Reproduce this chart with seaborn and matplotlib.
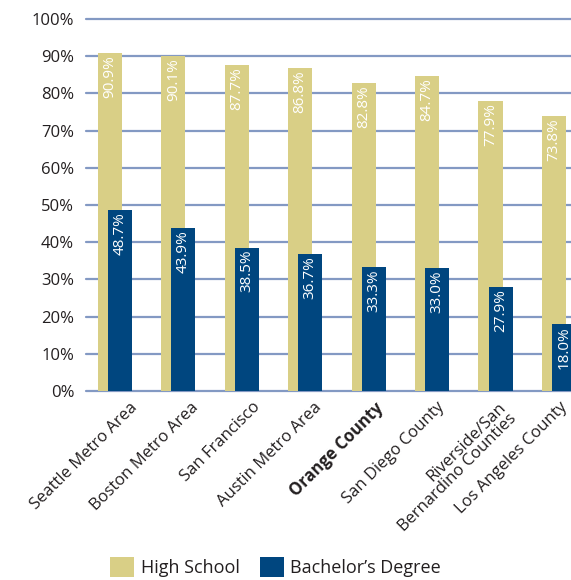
import numpy as np
import pandas as pd
import matplotlib
matplotlib.use("Agg")
import matplotlib.pyplot as plt
from matplotlib.patches import Patch
import seaborn as sns

regions = ["Seattle Metro Area", "Boston Metro Area", "San Francisco",
           "Austin Metro Area", "Orange County", "San Diego County",
           "Riverside/San\nBernardino Counties", "Los Angeles County"]
high_school = [90.9, 90.1, 87.7, 86.8, 82.8, 84.7, 77.9, 73.8]
bachelors = [48.7, 43.9, 38.5, 36.7, 33.3, 33.0, 27.9, 18.0]
series_names = ["High School", "Bachelor\u2019s Degree"]
y_ticks = [0, 10, 20, 30, 40, 50, 60, 70, 80, 90, 100]

HS_COLOR = "#d9cf86"
BA_COLOR = "#00467f"
GRID_COLOR = "#8399c3"
TEXT_COLOR = "#231f20"

sns.set_theme(style="white")
plt.rcParams["font.family"] = ["Open Sans", "DejaVu Sans"]

fig = plt.figure(figsize=(5.71, 5.80), dpi=100)
ax = fig.add_axes([86 / 571, 1 - 391 / 580, 1 - 86 / 571, (391 - 19) / 580])

idx = np.arange(len(regions))
offset = 0.079
bar_w = 0.379
df_hs = pd.DataFrame({"pos": idx - offset, "value": high_school})
df_ba = pd.DataFrame({"pos": idx + offset, "value": bachelors})

sns.barplot(data=df_hs, x="pos", y="value", native_scale=True, width=bar_w,
            color=HS_COLOR, saturation=1, errorbar=None, ax=ax, linewidth=0)
sns.barplot(data=df_ba, x="pos", y="value", native_scale=True, width=bar_w,
            color=BA_COLOR, saturation=1, errorbar=None, ax=ax, linewidth=0)

# value labels inside bars
for pos, v in zip(idx - offset, high_school):
    ax.annotate(f"{v:.1f}%", xy=(pos, v), xytext=(0, -1.5), textcoords="offset points",
                rotation=90, ha="center", va="top", color="white", fontsize=11)
for pos, v in zip(idx + offset, bachelors):
    ax.annotate(f"{v:.1f}%", xy=(pos, v), xytext=(0, -1.5), textcoords="offset points",
                rotation=90, ha="center", va="top", color="white", fontsize=11)

ax.set_xlim(-0.457, 7.19)
ax.set_ylim(0, 100)
ax.set_yticks(y_ticks)
ax.set_yticklabels([f"{t}%" for t in y_ticks])
# label anchors (top-right end of each rotated label)
ax.set_xticks(0.221 + 0.9685 * idx)
ax.set_xticklabels(regions)
ax.set_xlabel("")
ax.set_ylabel("")

for s in ax.spines.values():
    s.set_visible(False)
ax.set_axisbelow(True)
ax.yaxis.grid(True, color=GRID_COLOR, linewidth=1.6)
for gl in ax.get_ygridlines():
    gl.set_clip_on(False)
ax.xaxis.grid(False)
ax.tick_params(axis="y", length=0, pad=8.5, labelsize=12, labelcolor=TEXT_COLOR)
ax.tick_params(axis="x", length=0, pad=6, labelsize=12, labelcolor=TEXT_COLOR)

for lbl in ax.get_xticklabels():
    lbl.set_rotation(45)
    lbl.set_ha("right")
    lbl.set_va("top")
    lbl.set_rotation_mode("anchor")
    lbl.set_multialignment("right")
    lbl.set_linespacing(1.0)
    if lbl.get_text() == "Orange County":
        lbl.set_fontweight("bold")

handles = [Patch(facecolor=HS_COLOR, edgecolor="none"),
           Patch(facecolor=BA_COLOR, edgecolor="none")]
fig.legend(handles, series_names, loc="center", bbox_to_anchor=(0.4825, 0.0216),
           ncol=2, frameon=False, fontsize=13, handlelength=1.33, handleheight=1.33,
           handletextpad=0.35, columnspacing=1.1, labelcolor=TEXT_COLOR)

fig.savefig("out.png", dpi=100)
